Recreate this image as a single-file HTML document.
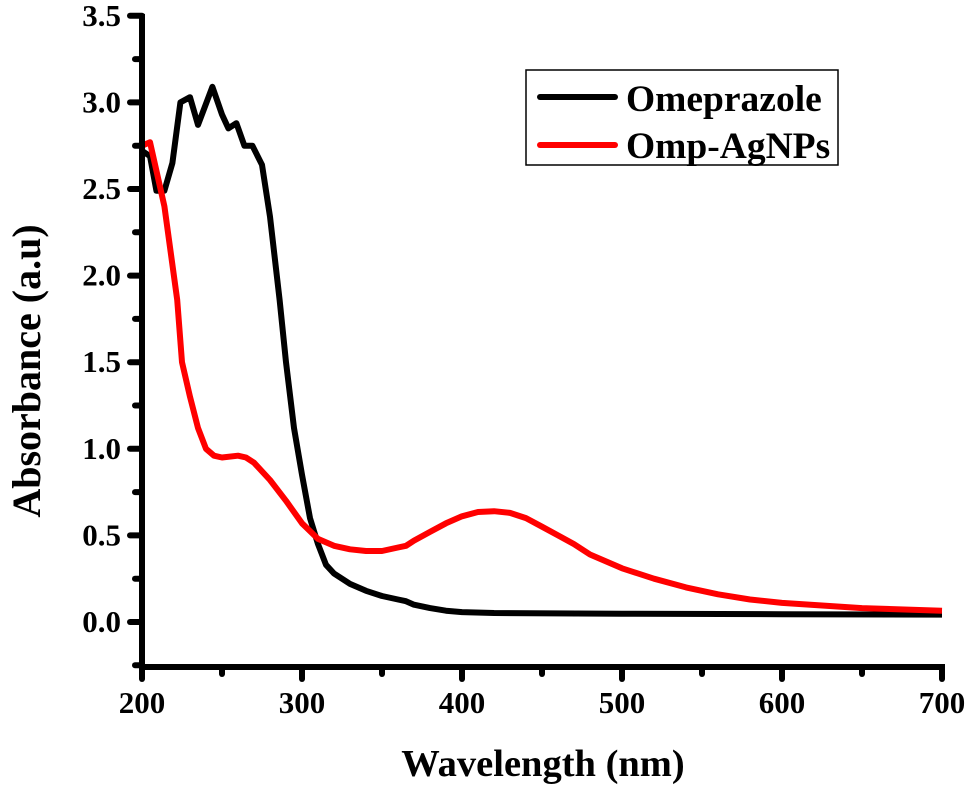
<!DOCTYPE html>
<html><head><meta charset="utf-8"><style>
html,body{margin:0;padding:0;background:#fff;}
svg{display:block;font-family:"Liberation Serif",serif;font-weight:bold;}
</style></head><body>
<svg id="chart" width="967" height="786">
<g id="series"></g>
<g id="axes"></g>
<g>
<rect x="526" y="70" width="312" height="95" fill="#fff" stroke="#000" stroke-width="1.5"/>
<line x1="540" y1="97" x2="615" y2="97" stroke="#000" stroke-width="6" stroke-linecap="round"/>
<text x="626" y="111" font-size="37.5">Omeprazole</text>
<line x1="540" y1="145" x2="615" y2="145" stroke="#f00" stroke-width="6" stroke-linecap="round"/>
<text x="626" y="158" font-size="37.5">Omp-AgNPs</text>
</g>
<text x="543" y="776" font-size="38.5" text-anchor="middle">Wavelength (nm)</text>
<text transform="translate(40,371) rotate(-90)" font-size="40" text-anchor="middle">Absorbance (a.u)</text>
</svg>
<script>
const omeX=[200,205,209,214,219,224,230,235,244,250,254,259,264,269,275,280,286,290,295,300,305,310,315,320,330,340,350,360,365,370,380,390,400,420,500,600,700];
const omeY=[2.72,2.69,2.49,2.49,2.65,3.00,3.03,2.87,3.09,2.93,2.85,2.88,2.75,2.75,2.64,2.34,1.86,1.5,1.12,0.85,0.6,0.45,0.33,0.28,0.22,0.18,0.15,0.13,0.12,0.10,0.08,0.065,0.057,0.052,0.048,0.045,0.043];
const agX=[200,205,214,222,225,230,235,240,245,250,260,265,270,280,290,300,310,320,330,340,350,360,365,370,380,390,400,410,420,430,440,450,460,470,480,490,500,520,540,560,580,600,650,700];
const agY=[2.75,2.77,2.40,1.86,1.5,1.3,1.12,1.0,0.96,0.95,0.96,0.95,0.92,0.82,0.7,0.57,0.48,0.44,0.42,0.41,0.41,0.43,0.44,0.47,0.52,0.57,0.61,0.635,0.64,0.63,0.6,0.55,0.5,0.45,0.39,0.35,0.31,0.25,0.2,0.16,0.13,0.11,0.08,0.065];
const xTicks=[200,300,400,500,600,700];
const yTicks=[0.0,0.5,1.0,1.5,2.0,2.5,3.0,3.5];
const NS="http://www.w3.org/2000/svg";
const X0=142,X1=942,Y0=622,Ypx=173.2;
function sx(v){return X0+(v-200)*(X1-X0)/500;}
function sy(v){return Y0-v*Ypx;}
function mk(t,a,p){const e=document.createElementNS(NS,t);for(const k in a)e.setAttribute(k,a[k]);p.appendChild(e);return e;}
const ser=document.getElementById('series'),ax=document.getElementById('axes');
function line(xs,ys,c,n){const d=xs.map((x,i)=>(i?'L':'M')+sx(x).toFixed(1)+','+sy(ys[i]).toFixed(1)).join('');
const p=mk('path',{d:d,fill:'none',stroke:c,'stroke-width':6,'stroke-linejoin':'round'},ser);

}
line(omeX,omeY,'#000','omeprazole-line');
line(agX,agY,'#f00','omp-agnps-line');
const yb=667;
let a=mk('line',{x1:X0,y1:14,x2:X0,y2:yb+3,stroke:'#000','stroke-width':6},ax);


a=mk('line',{x1:X0-3,y1:yb,x2:X1+3,y2:yb,stroke:'#000','stroke-width':6},ax);


xTicks.forEach(v=>{let t=mk('line',{x1:sx(v),y1:yb,x2:sx(v),y2:yb+12,stroke:'#000','stroke-width':6,'stroke-linecap':'round'},ax);


let l=mk('text',{x:sx(v),y:yb+46,'font-size':31,'text-anchor':'middle'},ax);l.textContent=v;

});
for(let v=250;v<700;v+=100){let t=mk('line',{x1:sx(v),y1:yb,x2:sx(v),y2:yb+7,stroke:'#000','stroke-width':6,'stroke-linecap':'round'},ax);

}
yTicks.forEach(v=>{let t=mk('line',{x1:X0-12,y1:sy(v),x2:X0,y2:sy(v),stroke:'#000','stroke-width':6,'stroke-linecap':'round'},ax);


let l=mk('text',{x:X0-21,y:sy(v)+10,'font-size':31,'text-anchor':'end'},ax);l.textContent=v.toFixed(1);

});
for(let v=-0.25;v<3.5;v+=0.5){let t=mk('line',{x1:X0-7,y1:sy(v),x2:X0,y2:sy(v),stroke:'#000','stroke-width':6,'stroke-linecap':'round'},ax);

}
</script>
</body></html>
